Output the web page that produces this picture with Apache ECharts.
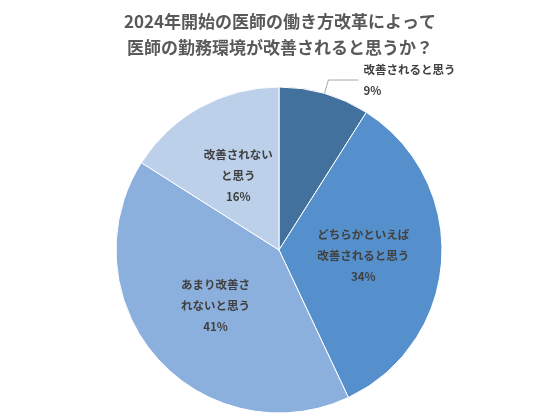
<!DOCTYPE html>
<html><head><meta charset="utf-8">
<script src="https://cdn.jsdelivr.net/npm/echarts@6/dist/echarts.min.js"></script>
<style>html,body{margin:0;padding:0;background:#fff}#c{width:560px;height:420px}</style>
</head><body><div id="c"></div>
<script>
const categories = ["改善されると思う", "どちらかといえば\n改善されると思う", "あまり改善さ\nれないと思う", "改善されない\nと思う"];
const values = [9, 34, 41, 16];
const colors = ["#41719c", "#5590cc", "#8cb0dd", "#bcd0ea"];
const chart = echarts.init(document.getElementById('c'));
const data = categories.map((n, i) => {
  const d = {name: n, value: values[i], itemStyle: {color: colors[i]}};
  if (i === 0) {
    d.label = {position: 'outside'};
    d.labelLine = {show: true, length: 14, length2: 30, lineStyle: {color: '#a6a6a6'}};
  }
  return d;
});
chart.setOption({
  animation: false,
  title: {text: "2024年開始の医師の働き方改革によって\n医師の勤務環境が改善されると思うか？", left: 'center', top: 4,
    textStyle: {fontFamily: 'Noto Sans CJK JP', fontSize: 17, fontWeight: 'bold', color: '#595959', lineHeight: 26}},
  series: [{
    type: 'pie', center: [279, 250], radius: 163, startAngle: 90, clockwise: true,
    itemStyle: {borderColor: '#fff', borderWidth: 1},
    label: {show: true, position: 'inside', formatter: p => p.name + '\n' + p.value + '%',
      fontFamily: 'Noto Sans CJK JP', fontSize: 11.5, fontWeight: 'bold', color: '#404040', lineHeight: 21, align: 'center'},
    labelLine: {show: false},
    data: data
  }]
});
</script></body></html>
